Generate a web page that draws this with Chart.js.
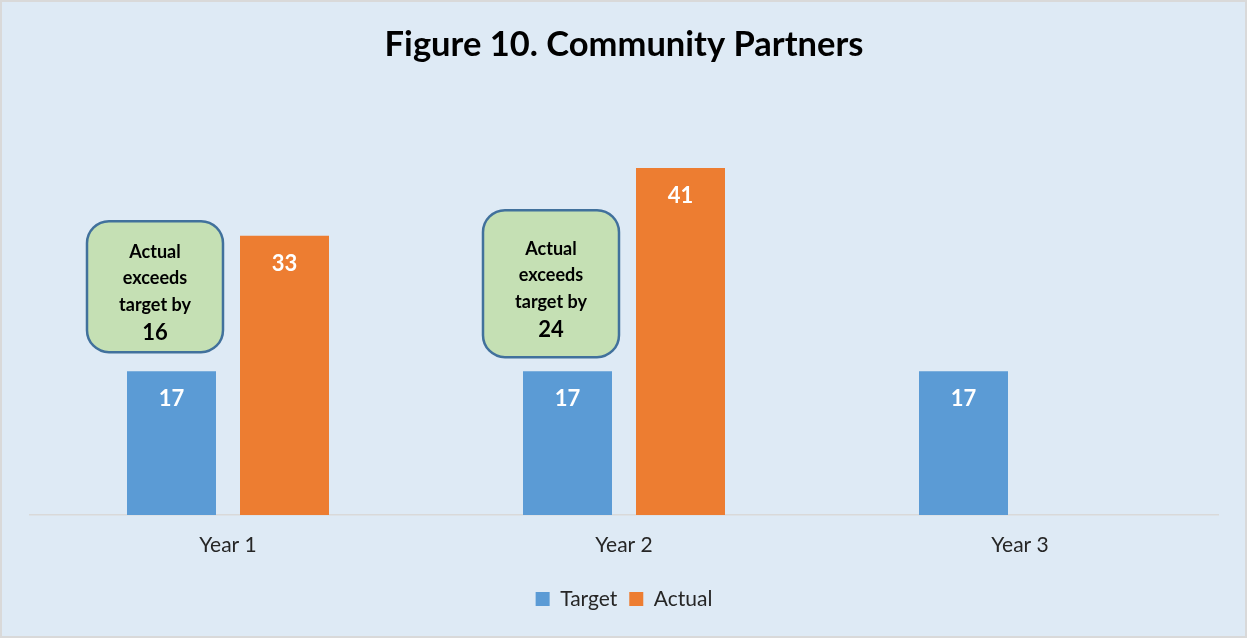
<!DOCTYPE html>
<html>
<head>
<meta charset="utf-8">
<script src="https://cdn.jsdelivr.net/npm/chart.js@4/dist/chart.umd.min.js"></script>
<style>
  html, body { margin: 0; padding: 0; }
  .wrap {
    width: 1247px; height: 638px; box-sizing: border-box;
    border: 2px solid #d9d9d9; background: #deeaf5;
  }
  canvas { display: block; }
</style>
</head>
<body>
<div class="wrap"><canvas id="myChart" width="1243" height="634"></canvas></div>
<script>
// chart data
const years = ['Year 1', 'Year 2', 'Year 3'];
const target = [17, 17, 17];
const actual = [33, 41, null];

// callout boxes next to the target bars (layout only)
const calloutBoxes = [
    { index: 0, height: 131, gap: 19 },
    { index: 1, height: 147, gap: 14 }
];

const FONT = 'Lato, "Open Sans", sans-serif';

const barLabels = {
    id: 'barLabels',
    afterDatasetsDraw(chart) {
        const ctx = chart.ctx;
        ctx.save();
        ctx.fillStyle = '#ffffff';
        ctx.font = 'bold 22px ' + FONT;
        ctx.textAlign = 'center';
        ctx.textBaseline = 'middle';
        chart.data.datasets.forEach((ds, i) => {
            chart.getDatasetMeta(i).data.forEach((bar, j) => {
                if (ds.data[j] == null) return;
                ctx.fillText(ds.data[j], bar.x, bar.y + 28);
            });
        });
        ctx.restore();
    }
};

const callouts = {
    id: 'callouts',
    afterDatasetsDraw(chart) {
        const ctx = chart.ctx;
        const meta = chart.getDatasetMeta(0);
        calloutBoxes.forEach(({ index, height, gap }) => {
            const bar = meta.data[index];
            const diff = actual[index] - target[index];
            const w = 136;
            const right = bar.x + bar.width / 2 + 7;
            const left = right - w;
            const bottom = bar.y - gap;
            const top = bottom - height;
            ctx.save();
            ctx.beginPath();
            ctx.roundRect(left, top, w, height, 22);
            ctx.fillStyle = '#c5e0b4';
            ctx.fill();
            ctx.lineWidth = 2.5;
            ctx.strokeStyle = '#41719c';
            ctx.stroke();
            ctx.fillStyle = '#000000';
            ctx.textAlign = 'center';
            ctx.textBaseline = 'middle';
            const cx = left + w / 2;
            const lines = ['Actual', 'exceeds', 'target by'];
            const offs = [31, 57, 84];
            ctx.font = 'bold 18px ' + FONT;
            lines.forEach((t, k) => ctx.fillText(t, cx, top + offs[k] + (height - 131) / 2));
            ctx.font = 'bold 22px ' + FONT;
            ctx.fillText(String(diff), cx, top + 112 + (height - 131) / 2);
            ctx.restore();
        });
    }
};

const data = {
    labels: years,
    datasets: [
        {
            label: 'Target',
            data: target,
            backgroundColor: '#5b9bd5',
            categoryPercentage: 0.5707,
            barPercentage: 0.7876
        },
        {
            label: 'Actual',
            data: actual,
            backgroundColor: '#ed7d31',
            categoryPercentage: 0.5707,
            barPercentage: 0.7876
        }
    ]
};

const config = {
    type: 'bar',
    data: data,
    options: {
        responsive: false,
        animation: false,
        layout: { padding: { left: 28, right: 27, top: 0, bottom: 16.5 } },
        plugins: {
            title: {
                display: true,
                text: 'Figure 10. Community Partners',
                color: '#000000',
                font: { family: FONT, size: 34.5, weight: 'bold' },
                padding: { top: 22, bottom: 26.5 }
            },
            legend: {
                position: 'bottom',
                labels: {
                    color: '#262626',
                    font: { family: FONT, size: 21 },
                    boxWidth: 14,
                    boxHeight: 14,
                    padding: 12
                }
            },
            tooltip: { enabled: false }
        },
        scales: {
            x: {
                grid: { display: false, drawTicks: false },
                border: { display: true, color: '#d9d9d9', width: 1.5 },
                ticks: { color: '#262626', font: { family: FONT, size: 21 }, padding: 18 },
                afterFit(scale) { scale.height = 61.5; }
            },
            y: {
                display: false,
                min: 0,
                max: 50
            }
        }
    },
    plugins: [barLabels, callouts]
};

new Chart(document.getElementById('myChart'), config);
</script>
</body>
</html>
